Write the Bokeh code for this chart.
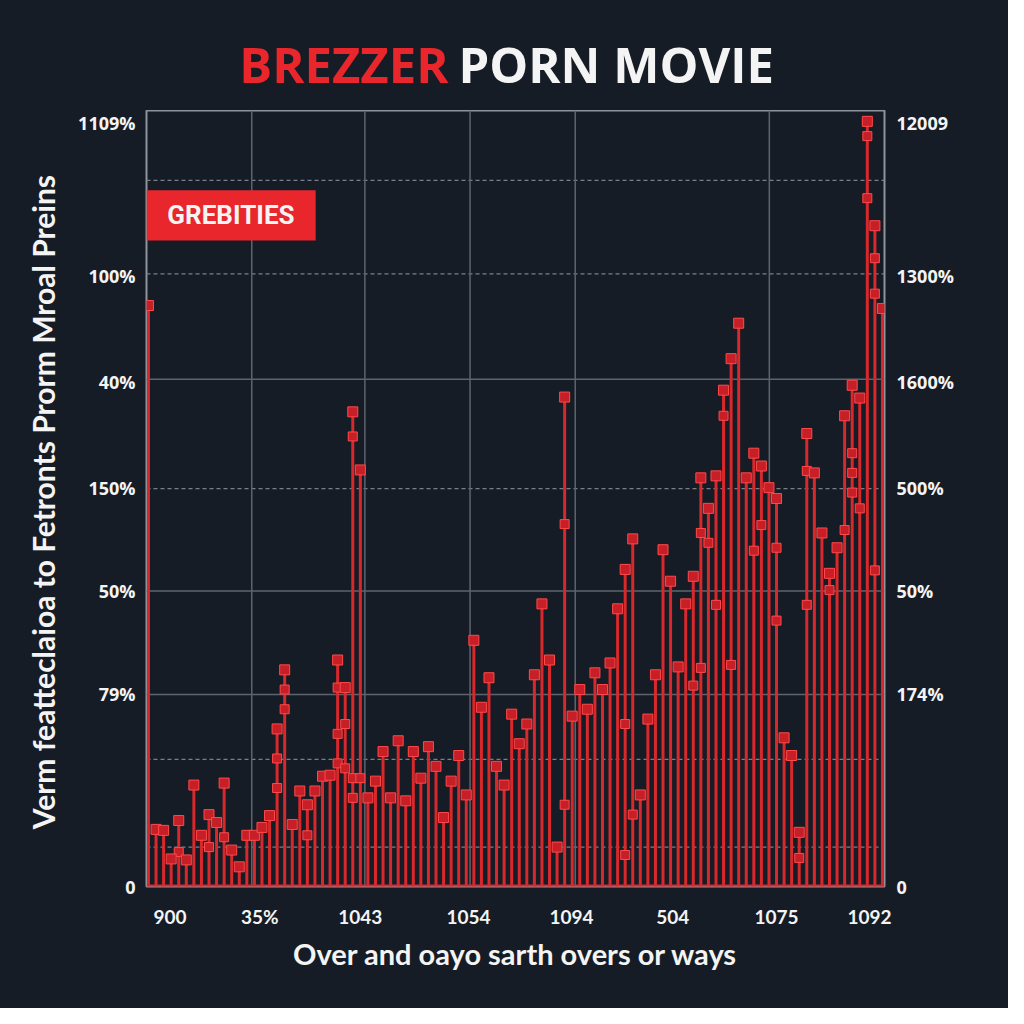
from bokeh.plotting import figure
from bokeh.layouts import column
from bokeh.models import (Range1d, LinearAxis, FixedTicker, Span, Label,
                          BoxAnnotation, ColumnDataSource)
from bokeh.core.properties import value
from bokeh.embed import file_html
from bokeh.resources import INLINE

# ---------------- data ----------------
bar_tops = [590, 58, 57, 28, 67, 27, 103, 52, 73, 65, 105, 37, 20, 52, 52, 60,
            72, 160, 220, 63, 97, 83, 97, 112, 113, 230, 202, 482, 423, 90, 107,
            137, 90, 148, 87, 137, 110, 142, 122, 70, 107, 133, 93, 250, 182,
            212, 122, 103, 175, 145, 165, 215, 287, 230, 40, 497, 173, 200, 180,
            217, 200, 227, 282, 322, 353, 93, 170, 215, 342, 310, 223, 287, 315,
            415, 384, 417, 504, 536, 572, 415, 440, 427, 405, 394, 151, 133, 55,
            460, 420, 359, 318, 344, 478, 509, 496, 777, 671, 587]

extra_idx = [17, 17, 18, 18, 25, 25, 25, 26, 26, 27, 27, 27, 28, 55, 55, 63, 63,
             64, 72, 73, 73, 74, 75, 76, 77, 80, 81, 83, 83, 86, 87, 87, 90, 92,
             93, 93, 93, 94, 95, 95, 96, 96, 96, 8, 10, 21, 4]
extra_val = [130, 100, 200, 180, 202, 155, 125, 165, 120, 457, 110, 90, 110, 368,
             83, 165, 32, 73, 204, 359, 222, 349, 286, 478, 225, 341, 367, 344,
             270, 29, 422, 286, 301, 362, 440, 420, 400, 384, 762, 699, 638, 602,
             321, 40, 50, 52, 35]

left_ticks = [788, 620, 512, 405, 300, 195, 0]
left_labels = ["1109%", "100%", "40%", "150%", "50%", "79%", "0"]
right_labels = ["12009", "1300%", "1600%", "500%", "50%", "174%", "0"]
x_ticks = [2.86, 14.7, 28.0, 42.3, 55.9, 69.3, 83.0, 95.3]
x_labels = ["900", "35%", "1043", "1054", "1094", "504", "1075", "1092"]

solid_h = [515, 300, 195]
dashed_h = [717, 622, 404, 129, 40]
grid_v = [13.65, 28.6, 42.5, 56.4, 82.05]

title_red = "BREZZER"
title_white = "PORN MOVIE"
legend_text = "GREBITIES"
y_title = "Verm featteclaioa to  Fetronts Prorm Mroal Preins"
x_title = "Over and oayo sarth overs or ways"

BG = "#161c25"
RED = "#d8282c"
TRED = "#e8262b"
WHITE = "#f4f4f4"
GRID = "#5d646e"

W = 1008
TOP = 110

# ---------------- title strip ----------------
t = figure(width=W, height=TOP, output_backend="svg", toolbar_location=None,
           x_range=Range1d(0, W), y_range=Range1d(0, TOP),
           background_fill_color=BG, border_fill_color=BG,
           min_border=0, x_axis_location=None, y_axis_location=None)
t.frame_align = False
t.grid.visible = False
t.outline_line_color = None
t.text(x=[448], y=[47], text=[title_red], text_color=TRED,
       text_font=value("Open Sans"), text_font_style="bold",
       text_font_size="49px", text_align="right", text_baseline="alphabetic")
t.text(x=[458], y=[47], text=[title_white], text_color=WHITE,
       text_font=value("Open Sans"), text_font_style="bold",
       text_font_size="49px", text_align="left", text_baseline="alphabetic")

# ---------------- main chart ----------------
n = len(bar_tops)
xs = list(range(n))
src = ColumnDataSource(dict(x=xs, y=bar_tops, y0=[0] * n))

p = figure(width=W, height=W - TOP, output_backend="svg", toolbar_location=None,
           x_range=Range1d(-0.26, 97.27), y_range=Range1d(0, 788),
           background_fill_color=BG, border_fill_color=BG,
           min_border_left=146, min_border_right=124,
           min_border_top=0, min_border_bottom=122,
           x_axis_location=None, y_axis_location=None)
p.frame_align = False
p.grid.visible = False
p.outline_line_color = "#8e949c"
p.outline_line_width = 2

for v in solid_h:
    p.add_layout(Span(location=v, dimension="width", line_color=GRID,
                      line_width=1.5, level="underlay"))
for v in dashed_h:
    p.add_layout(Span(location=v, dimension="width", line_color="#7a808a",
                      line_width=1.2, line_dash="4 3", level="underlay"))
for v in grid_v:
    p.add_layout(Span(location=v, dimension="height", line_color=GRID,
                      line_width=1.5, level="underlay"))

p.segment(x0="x", y0="y0", x1="x", y1="y", source=src, line_color=RED,
          line_width=3)
p.scatter(x=extra_idx, y=extra_val, marker="square", size=9,
          fill_color="#c71f27", line_color="#ff4a4a", line_width=1)
p.scatter(x="x", y="y", source=src, marker="square", size=10,
          fill_color="#c71f27", line_color="#ff4a4a", line_width=1)
p.add_layout(Span(location=0, dimension="width", line_color=RED, line_width=4))


def style(ax):
    ax.axis_line_color = None
    ax.major_tick_line_color = None
    ax.minor_tick_line_color = None
    ax.major_label_text_color = WHITE
    ax.major_label_text_font = "Open Sans"
    ax.major_label_text_font_style = "bold"
    ax.major_label_text_font_size = "18px"
    ax.axis_label_text_color = WHITE
    ax.axis_label_text_font = "Lato"
    ax.axis_label_text_font_style = "bold"
    ax.axis_label_text_font_size = "29px"


yl = LinearAxis(ticker=FixedTicker(ticks=left_ticks),
                major_label_overrides=dict(zip(left_ticks, left_labels)),
                axis_label=y_title)
style(yl)
yl.axis_label_text_font_size = "30px"
yl.major_label_standoff = 5
yl.axis_label_standoff = 14
p.add_layout(yl, "left")

yr = LinearAxis(ticker=FixedTicker(ticks=left_ticks),
                major_label_overrides=dict(zip(left_ticks, right_labels)))
style(yr)
yr.major_label_standoff = 6
p.add_layout(yr, "right")

xa = LinearAxis(ticker=FixedTicker(ticks=x_ticks),
                major_label_overrides=dict(zip(x_ticks, x_labels)),
                axis_label=x_title)
style(xa)
xa.major_label_text_font = "Lato"
xa.major_label_text_font_size = "19px"
xa.major_label_standoff = 12
xa.axis_label_standoff = 5
p.add_layout(xa, "below")

p.add_layout(BoxAnnotation(left=-0.26, right=22.1, top=707, bottom=656,
                           fill_color=TRED, fill_alpha=1.0, line_color=None))
p.add_layout(Label(x=10.9, y=681.5, text=legend_text, text_color=WHITE,
                   text_font="Roboto", text_font_style="bold",
                   text_font_size="26px", text_align="center",
                   text_baseline="middle"))

layout = column(t, p, spacing=0, styles={"background-color": BG})
open("out.html", "w").write(file_html(layout, INLINE))
